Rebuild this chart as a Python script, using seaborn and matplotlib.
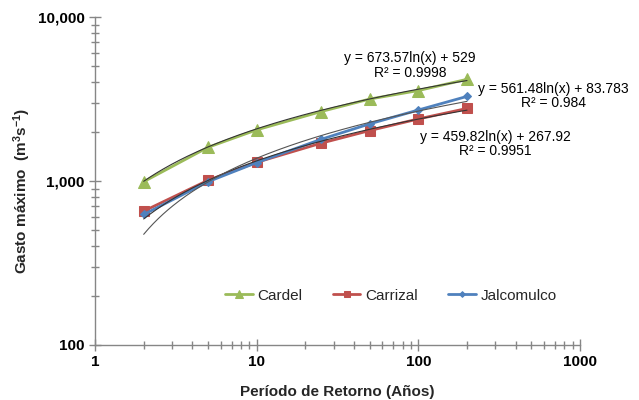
import numpy as np
import pandas as pd
import matplotlib
matplotlib.use("Agg")
import matplotlib.pyplot as plt
import matplotlib.ticker as mticker
import seaborn as sns

# ---- data ----
periods = [2, 5, 10, 25, 50, 100, 200]
cardel = [990, 1605, 2050, 2650, 3160, 3560, 4170]
carrizal = [655, 1010, 1300, 1700, 2030, 2390, 2770]
jalcomulco = [625, 990, 1295, 1795, 2230, 2710, 3280]
series_names = ["Cardel", "Carrizal", "Jalcomulco"]
trend_slope = [673.57, 459.82, 561.48]
trend_intercept = [529, 267.92, 83.783]
trend_r2 = ["0.9998", "0.9951", "0.984"]
trend_int_text = ["529", "267.92", "83.783"]

sns.set_theme(style="white")
plt.rcParams["font.family"] = ["Liberation Sans", "DejaVu Sans"]
plt.rcParams["mathtext.fontset"] = "custom"
plt.rcParams["mathtext.rm"] = "Liberation Sans"
plt.rcParams["mathtext.bf"] = "Liberation Sans:bold"
plt.rcParams["mathtext.default"] = "bf"

colors = {"Cardel": "#9BBB59", "Carrizal": "#C0504D", "Jalcomulco": "#4F81BD"}
markers = {"Cardel": "^", "Carrizal": "s", "Jalcomulco": "D"}
msizes = {"Cardel": 9, "Carrizal": 6.5, "Jalcomulco": 4.5}

df = pd.DataFrame({
    "T": periods * 3,
    "Q": cardel + carrizal + jalcomulco,
    "Estación": [n for n in series_names for _ in periods],
})

fig = plt.figure(figsize=(6.39, 4.0), dpi=100)
ax = fig.add_axes([0.1487, 0.1375, 0.759, 0.82])

for name in series_names:
    sub = df[df["Estación"] == name]
    sns.lineplot(data=sub, x="T", y="Q", ax=ax, color=colors[name],
                 marker=markers[name], markersize=msizes[name],
                 markeredgecolor=colors[name], linewidth=2.0,
                 label=name, zorder=2)

# logarithmic trendlines (from the displayed equations)
xt = np.geomspace(min(periods), max(periods), 200)
trend_colors = ["#333333", "#333333", "#555555"]
for s, b, c in zip(trend_slope, trend_intercept, trend_colors):
    ax.plot(xt, s * np.log(xt) + b, color=c, linewidth=0.8, zorder=3)

ax.set_xscale("log")
ax.set_yscale("log")
ax.set_xlim(1, 1000)
ax.set_ylim(100, 10000)

ax.xaxis.set_major_formatter(mticker.FuncFormatter(lambda v, p: f"{v:g}"))
ax.yaxis.set_major_formatter(mticker.FuncFormatter(lambda v, p: f"{v:,.0f}"))
ax.xaxis.set_minor_formatter(mticker.NullFormatter())
ax.yaxis.set_minor_formatter(mticker.NullFormatter())
ax.xaxis.set_minor_locator(mticker.LogLocator(base=10, subs=np.arange(2, 10)))
ax.yaxis.set_minor_locator(mticker.LogLocator(base=10, subs=np.arange(2, 10)))

spine_col = "#868686"
for side in ["top", "right"]:
    ax.spines[side].set_visible(False)
for side in ["left", "bottom"]:
    ax.spines[side].set_color(spine_col)
    ax.spines[side].set_linewidth(1.0)

ax.tick_params(axis="both", which="major", direction="inout", length=8,
               width=1, color=spine_col, labelsize=11, labelcolor="black",
               bottom=True, left=True)
ax.tick_params(axis="both", which="minor", direction="inout", length=6,
               width=1, color=spine_col, bottom=True, left=True)
for lbl in ax.get_xticklabels() + ax.get_yticklabels():
    lbl.set_fontweight("bold")

ax.set_xlabel("Período de Retorno (Años)", fontsize=11, fontweight="bold", labelpad=11)
ax.set_ylabel(r"Gasto máximo  (m$^{3}$s$^{-1}$)", fontsize=11, fontweight="bold")
ax.yaxis.set_label_coords(-0.128, 0.47)
ax.grid(False)

leg = ax.legend(loc="center", bbox_to_anchor=(0.61, 0.15), ncol=3, frameon=False,
                fontsize=11, handlelength=1.8, columnspacing=2.0, handletextpad=0.3,
                markerscale=0.65)

# equation labels
eq_pos = [(0.649, 0.852), (0.825, 0.613), (0.945, 0.759)]
for s, it, r2, (px, py) in zip(trend_slope, trend_int_text, trend_r2, eq_pos):
    ax.text(px, py, f"y = {s:.2f}ln(x) + {it}\nR² = {r2}", transform=ax.transAxes,
            ha="center", va="center", fontsize=10, linespacing=1.05,
            multialignment="center", color="black")

fig.savefig("out.png", dpi=100)
